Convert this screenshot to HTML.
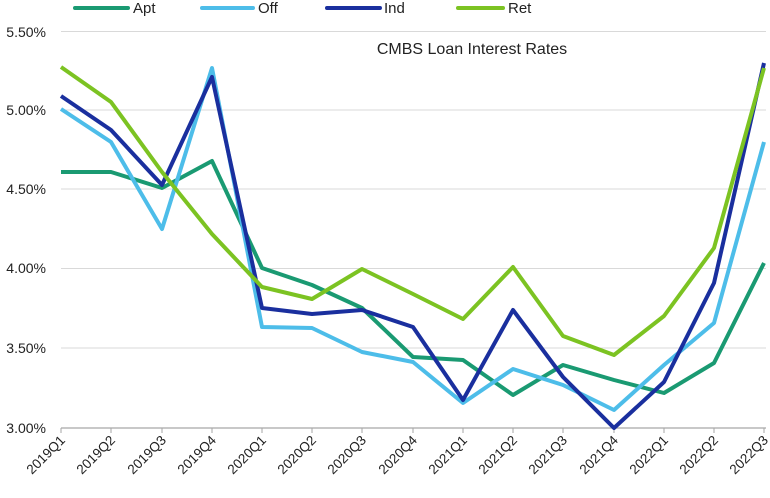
<!DOCTYPE html>
<html><head><meta charset="utf-8"><style>
html,body{margin:0;padding:0;background:#fff;}
svg{display:block;font-family:"Liberation Sans",Arial,sans-serif;}
</style></head><body>
<svg width="770" height="498" viewBox="0 0 770 498" xmlns="http://www.w3.org/2000/svg">
<g stroke="#d9d9d9" stroke-width="1">
<line x1="61" y1="31.5" x2="766" y2="31.5"/>
<line x1="61" y1="110" x2="766" y2="110"/>
<line x1="61" y1="189" x2="766" y2="189"/>
<line x1="61" y1="268.5" x2="766" y2="268.5"/>
<line x1="61" y1="348" x2="766" y2="348"/>
</g>
<line x1="61" y1="428" x2="766" y2="428" stroke="#a6a6a6" stroke-width="1.2"/>
<g stroke="#a6a6a6" stroke-width="1">
<line x1="61" y1="428" x2="61" y2="433"/><line x1="111" y1="428" x2="111" y2="433"/><line x1="162" y1="428" x2="162" y2="433"/><line x1="212" y1="428" x2="212" y2="433"/><line x1="262" y1="428" x2="262" y2="433"/><line x1="312" y1="428" x2="312" y2="433"/><line x1="362" y1="428" x2="362" y2="433"/><line x1="413" y1="428" x2="413" y2="433"/><line x1="463" y1="428" x2="463" y2="433"/><line x1="513" y1="428" x2="513" y2="433"/><line x1="563" y1="428" x2="563" y2="433"/><line x1="614" y1="428" x2="614" y2="433"/><line x1="664" y1="428" x2="664" y2="433"/><line x1="714" y1="428" x2="714" y2="433"/><line x1="764" y1="428" x2="764" y2="433"/>
</g>
<g font-size="14" fill="#222" text-anchor="end">
<text x="46" y="37">5.50%</text><text x="46" y="115">5.00%</text><text x="46" y="194">4.50%</text><text x="46" y="273">4.00%</text><text x="46" y="353">3.50%</text><text x="46" y="433">3.00%</text>
</g>
<g font-size="13.5" fill="#222" text-anchor="end">
<text transform="translate(66,441) rotate(-45)">2019Q1</text>
<text transform="translate(116,441) rotate(-45)">2019Q2</text>
<text transform="translate(167,441) rotate(-45)">2019Q3</text>
<text transform="translate(217,441) rotate(-45)">2019Q4</text>
<text transform="translate(267,441) rotate(-45)">2020Q1</text>
<text transform="translate(317,441) rotate(-45)">2020Q2</text>
<text transform="translate(367,441) rotate(-45)">2020Q3</text>
<text transform="translate(418,441) rotate(-45)">2020Q4</text>
<text transform="translate(468,441) rotate(-45)">2021Q1</text>
<text transform="translate(518,441) rotate(-45)">2021Q2</text>
<text transform="translate(568,441) rotate(-45)">2021Q3</text>
<text transform="translate(619,441) rotate(-45)">2021Q4</text>
<text transform="translate(669,441) rotate(-45)">2022Q1</text>
<text transform="translate(719,441) rotate(-45)">2022Q2</text>
<text transform="translate(769,441) rotate(-45)">2022Q3</text>
</g>
<text x="472" y="54" font-size="16" fill="#222" text-anchor="middle">CMBS Loan Interest Rates</text>
<g fill="none" stroke-width="4" stroke-linejoin="round">
<polyline stroke="#1a9a72" points="61,172 111,172 162,188 212,161 262,268 312,285 362,308 413,357 463,360 513,395 563,365 614,380 664,393 714,363 764,263"/>
<polyline stroke="#4dbde9" points="61,109 111,142 162,229 212,68 262,327 312,328 362,352 413,362 463,403 513,369 563,385 614,410 664,365 714,323 764,142"/>
<polyline stroke="#1a2f9e" points="61,96 111,130 162,185 212,77 262,308 312,314 362,310 413,327 463,400 513,310 563,377 614,428 664,382 714,283 764,63"/>
<polyline stroke="#7cc322" points="61,67 111,102 162,172 212,234 262,287 312,299 362,269 413,294 463,319 513,267 563,336 614,355 664,316 714,248 764,68"/>
</g>
<g stroke-width="4" stroke-linecap="round">
<line x1="75" y1="8" x2="128" y2="8" stroke="#1a9a72"/>
<line x1="202" y1="8" x2="253" y2="8" stroke="#4dbde9"/>
<line x1="327" y1="8" x2="380" y2="8" stroke="#1a2f9e"/>
<line x1="458" y1="8" x2="503" y2="8" stroke="#7cc322"/>
</g>
<g font-size="15" fill="#222">
<text x="133" y="13">Apt</text><text x="258" y="13">Off</text><text x="384" y="13">Ind</text><text x="508" y="13">Ret</text>
</g>
</svg>
</body></html>
